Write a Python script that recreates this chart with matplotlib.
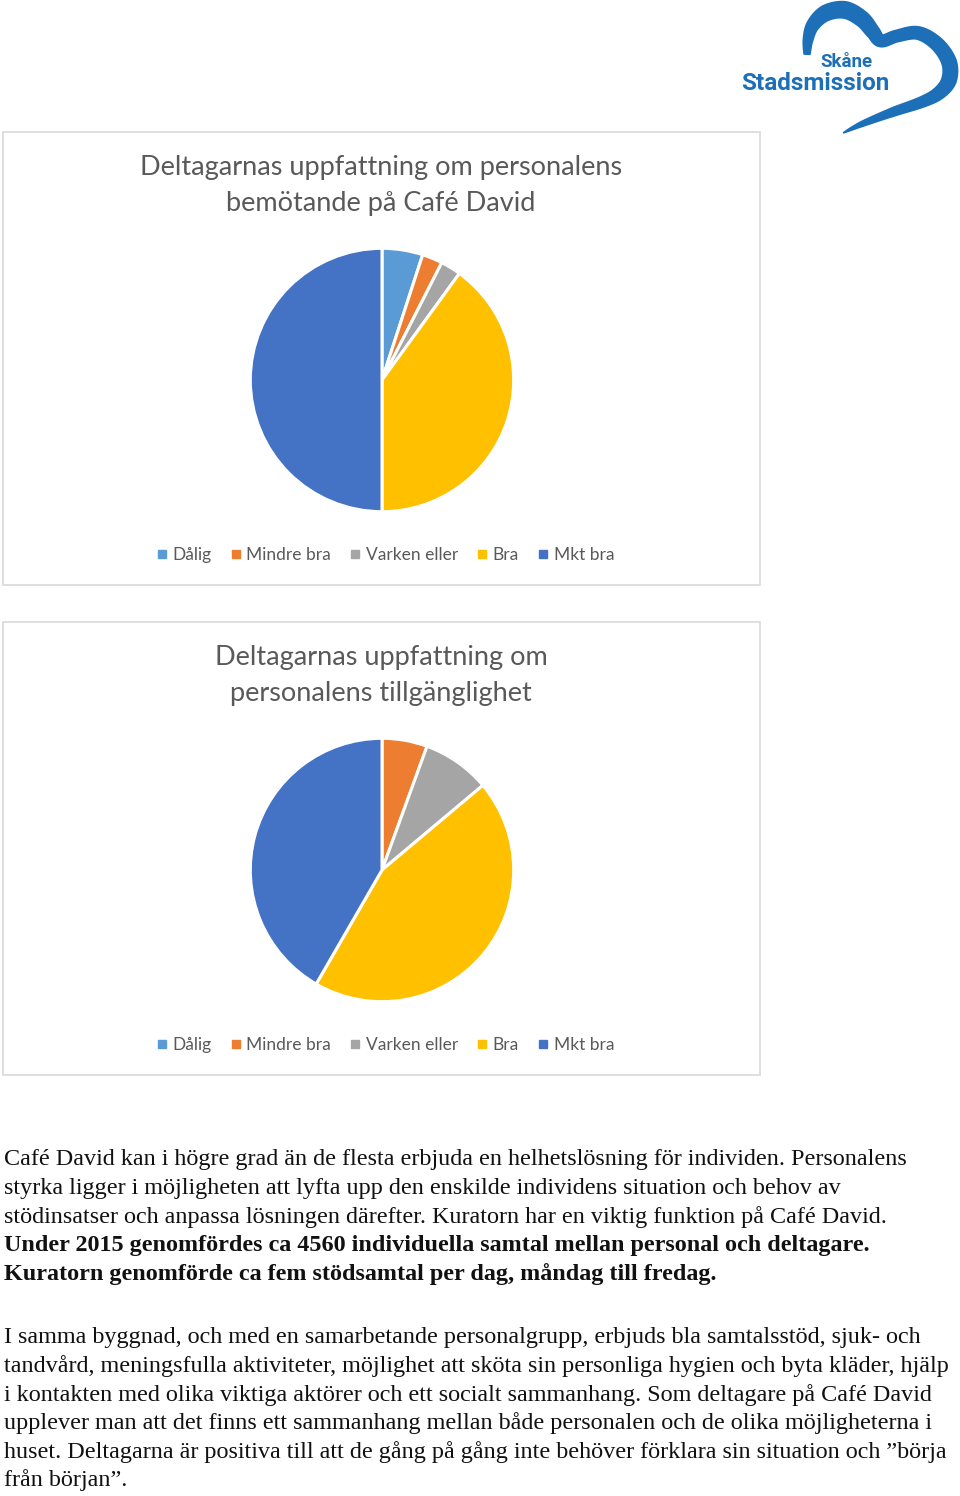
import matplotlib
matplotlib.use('Agg')
import matplotlib.pyplot as plt
from matplotlib.patches import Rectangle
from matplotlib.lines import Line2D
import numpy as np

# ---------------- data ----------------
categories = ['Dålig', 'Mindre bra', 'Varken eller', 'Bra', 'Mkt bra']
colors = ['#5b9bd5', '#ed7d31', '#a5a5a5', '#ffc000', '#4472c4']
bemotande = [2, 1, 1, 16, 20]
tillganglighet = [0, 2, 3, 16, 15]
title1 = ['Deltagarnas uppfattning om personalens', 'bemötande på Café David']
title2 = ['Deltagarnas uppfattning om', 'personalens tillgänglighet']

para1 = [
    ('Café David kan i högre grad än de flesta erbjuda en helhetslösning för individen. Personalens', 'normal'),
    ('styrka ligger i möjligheten att lyfta upp den enskilde individens situation och behov av', 'normal'),
    ('stödinsatser och anpassa lösningen därefter. Kuratorn har en viktig funktion på Café David.', 'normal'),
    ('Under 2015 genomfördes ca 4560 individuella samtal mellan personal och deltagare.', 'bold'),
    ('Kuratorn genomförde ca fem stödsamtal per dag, måndag till fredag.', 'bold'),
]
para2 = [
    'I samma byggnad, och med en samarbetande personalgrupp, erbjuds bla samtalsstöd, sjuk- och',
    'tandvård, meningsfulla aktiviteter, möjlighet att sköta sin personliga hygien och byta kläder, hjälp',
    'i kontakten med olika viktiga aktörer och ett socialt sammanhang. Som deltagare på Café David',
    'upplever man att det finns ett sammanhang mellan både personalen och de olika möjligheterna i',
    'huset. Deltagarna är positiva till att de gång på gång inte behöver förklara sin situation och \u201dbörja',
    'från början\u201d.',
]

# ---------------- figure ----------------
W, H = 960, 1496
fig = plt.figure(figsize=(W / 100, H / 100), dpi=100)
fig.patch.set_facecolor('white')

def fx(x):
    return x / W

def fy(y):
    return 1 - y / H

UI_FONT = ['Lato', 'DejaVu Sans']
GRAY = '#595959'

def chart(top, values, title):
    fig.patches.append(Rectangle((fx(3), fy(top + 453)), 757 / W, 453 / H,
                                 transform=fig.transFigure, fill=False,
                                 edgecolor='#d9d9d9', lw=1.2))
    for i, line in enumerate(title):
        fig.text(fx(381), fy(top + 36 + 36 * i), line, ha='center', va='center',
                 fontsize=19.5, color=GRAY, family=UI_FONT)
    r = 133
    cx, cy = 382, top + 248
    ax = fig.add_axes([fx(cx - r), fy(cy + r), 2 * r / W, 2 * r / H])
    ax.pie(values, colors=colors, startangle=90, counterclock=False,
           wedgeprops=dict(edgecolor='white', linewidth=2.2))
    ax.set_xlim(-1.01, 1.01)
    ax.set_ylim(-1.01, 1.01)
    ax.set_aspect('equal')
    ax.axis('off')
    handles = [Line2D([], [], marker='s', ls='', color=c, markersize=5.2) for c in colors]
    fig.legend(handles, categories, loc='center', bbox_to_anchor=(fx(386), fy(top + 423)),
               ncol=5, frameon=False, handlelength=0.5, handletextpad=0.35,
               columnspacing=1.15, labelcolor=GRAY,
               prop=dict(family=UI_FONT, size=12.5))

chart(132, bemotande, title1)
chart(622, tillganglighet, title2)

# ---------------- body text ----------------
SERIF = ['Liberation Serif', 'DejaVu Serif']
for i, (line, w) in enumerate(para1):
    fig.text(fx(4), fy(1160 + 28.4 * i), line, ha='left', va='center',
             fontsize=17.4, family=SERIF, weight=w, color='#111111')
for i, line in enumerate(para2):
    fig.text(fx(4), fy(1338 + 28.4 * i), line, ha='left', va='center',
             fontsize=17.4, family=SERIF, color='#111111')

# ---------------- logo ----------------
lax = fig.add_axes([fx(720), fy(140), 240 / W, 140 / H])
lax.set_xlim(720, 960)
lax.set_ylim(140, 0)
lax.axis('off')
BLUE = '#1d6fb8'

ctrl = np.array([
    (807, 55), (808, 40), (813, 25), (826, 13), (845, 10), (862, 19),
    (873, 32), (881, 41), (897, 36), (918, 33), (937, 44), (949, 62),
    (949, 80), (939, 93), (922, 102), (893, 112), (862, 124), (843, 133),
])
wctrl = np.array([7, 11, 14, 17, 18, 17, 15, 13, 13, 14, 15, 16, 16, 14, 12, 10, 6.5, 1.5])

def catmull(p, n=20):
    pts = []
    P = np.vstack([p[0], p, p[-1]])
    for i in range(1, len(P) - 2):
        p0, p1, p2, p3 = P[i - 1], P[i], P[i + 1], P[i + 2]
        for t in np.linspace(0, 1, n, endpoint=False):
            t2, t3 = t * t, t * t * t
            pts.append(0.5 * ((2 * p1) + (-p0 + p2) * t +
                              (2 * p0 - 5 * p1 + 4 * p2 - p3) * t2 +
                              (-p0 + 3 * p1 - 3 * p2 + p3) * t3))
    pts.append(P[-2])
    return np.array(pts)

n = 20
curve = catmull(ctrl, n)
width = np.interp(np.arange(len(curve)) / n, np.arange(len(wctrl)), wctrl)
d = np.gradient(curve, axis=0)
nrm = np.stack([-d[:, 1], d[:, 0]], axis=1)
nrm /= np.linalg.norm(nrm, axis=1, keepdims=True)
left = curve + nrm * width[:, None] / 2
right = curve - nrm * width[:, None] / 2
poly = np.vstack([left, right[::-1]])
lax.fill(poly[:, 0], poly[:, 1], color=BLUE, lw=0)

lax.text(846, 62, 'Skåne', ha='center', va='center', fontsize=13.5,
         weight='bold', color=BLUE, family=['Roboto', 'DejaVu Sans'])
lax.text(815, 83, 'Stadsmission', ha='center', va='center', fontsize=17.5,
         weight='bold', color=BLUE, family=['Roboto', 'DejaVu Sans'])

fig.savefig('out.png', dpi=100, facecolor='white')
